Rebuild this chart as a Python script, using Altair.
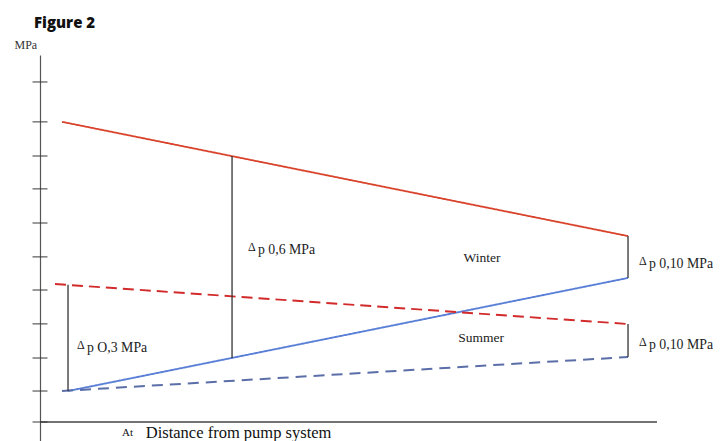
import altair as alt
import pandas as pd

# ---- data (y in MPa above the distance axis, x as share of the distance) ----
tick_values = [0.0, 0.0925, 0.191, 0.293, 0.394, 0.493, 0.594, 0.696, 0.794, 0.896, 1.015]

series_names = ["Winter supply", "Winter return", "Summer supply", "Summer return"]
series_x_start = [0.0, 0.0106, -0.0124, 0.0]
series_x_end = [1.0, 1.0, 1.0, 1.0]
series_y_start = [0.896, 0.0925, 0.412, 0.0925]
series_y_end = [0.555, 0.43, 0.2925, 0.194]

delta_x = [0.0106, 0.3004, 1.0, 1.0]
delta_top = [0.41, 0.794, 0.555, 0.2925]
delta_bottom = [0.0925, 0.191, 0.43, 0.194]

delta_label_text = ["p O,3 MPa", "p 0,6 MPa", "p 0,10 MPa", "p 0,10 MPa"]
delta_label_x = [0.0265, 0.3286, 1.0194, 1.0194]
delta_label_y = [0.208, 0.5024, 0.4588, 0.218]

season_text = ["Winter", "Summer"]
season_x = [0.742, 0.7403]
season_y = [0.4785, 0.2397]

axis_label_text = ["At", "Distance from pump system"]
axis_label_x = [0.106, 0.148]
axis_label_y = [-0.042, -0.0463]

fig_title = "Figure 2"
fig_title_x = -0.0495
fig_title_y = 1.176

XDOM = [-0.0389, 1.0512]
YDOM = [-0.0567, 1.0955]

# ---- tables ----
rows = []
for n, xs_, xe, ys_, ye in zip(series_names, series_x_start, series_x_end, series_y_start, series_y_end):
    rows.append({"series": n, "x": xs_, "y": ys_, "order": 0})
    rows.append({"series": n, "x": xe, "y": ye, "order": 1})
lines_df = pd.DataFrame(rows)
deltas_df = pd.DataFrame({"x": delta_x, "top": delta_top, "bottom": delta_bottom})
dlab_df = pd.DataFrame({"text": delta_label_text, "x": delta_label_x, "y": delta_label_y})
season_df = pd.DataFrame({"text": season_text, "x": season_x, "y": season_y})
ticks_df = pd.DataFrame({"y": tick_values, "x": [XDOM[0]] * len(tick_values)})
base_df = pd.DataFrame({"y": [0.0], "x": [XDOM[0]], "x2": [XDOM[1]]})
title_df = pd.DataFrame({"text": [fig_title], "x": [fig_title_x], "y": [fig_title_y]})

xs = alt.Scale(domain=XDOM, nice=False, zero=False)
ys = alt.Scale(domain=YDOM, nice=False, zero=False)

colors = ["#d9432b", "#5a7fd6", "#d22b2b", "#5b6ea8"]
dashes = [[1, 0], [1, 0], [11, 6], [11, 7]]
widths = [1.8, 2.0, 2.6, 2.0]
SERIF = "Liberation Serif"

X = alt.X("x:Q", scale=xs, axis=None)
Y = alt.Y("y:Q", scale=ys, axis=alt.Axis(
    title="MPa", labels=False, ticks=False, grid=False, domain=True,
    domainColor="#555", domainWidth=1.2, titleAngle=0, titleX=-26, titleY=-7,
    titleAlign="left", titleBaseline="alphabetic", titleFont=SERIF,
    titleFontSize=12, titleFontWeight="normal", titleColor="#333"))

lines = alt.Chart(lines_df).mark_line().encode(
    x=X, y=Y,
    color=alt.Color("series:N", scale=alt.Scale(domain=series_names, range=colors), legend=None),
    strokeDash=alt.StrokeDash("series:N", scale=alt.Scale(domain=series_names, range=dashes), legend=None),
    strokeWidth=alt.StrokeWidth("series:N", scale=alt.Scale(domain=series_names, range=widths), legend=None),
    order="order:Q",
)

x_axis = alt.Chart(base_df).mark_rule(color="#444", strokeWidth=1.4).encode(
    x=X, x2="x2:Q", y=Y)

y_ticks = alt.Chart(ticks_df).mark_tick(orient="horizontal", size=15, thickness=1.4, color="#333").encode(
    x=X, y=Y)

delta_rules = alt.Chart(deltas_df).mark_rule(color="#333", strokeWidth=1.3).encode(
    x=X,
    y=alt.Y("top:Q", scale=ys),
    y2="bottom:Q",
)

delta_sym = alt.Chart(dlab_df).mark_text(
    text="Δ", align="left", baseline="alphabetic", font=SERIF, fontSize=12, dy=-3, color="#222"
).encode(x=X, y=Y)

delta_txt = alt.Chart(dlab_df).mark_text(
    align="left", baseline="alphabetic", font=SERIF, fontSize=13.8, dx=10, color="#222"
).encode(x=X, y=Y, text="text:N")

season_lbl = alt.Chart(season_df).mark_text(
    align="center", baseline="alphabetic", font=SERIF, fontSize=13.5, color="#222"
).encode(x=X, y=Y, text="text:N")

axis_df = pd.DataFrame({"text": axis_label_text, "x": axis_label_x, "y": axis_label_y})
at_lbl = alt.Chart(axis_df.iloc[[0]]).mark_text(
    align="left", baseline="alphabetic", font=SERIF, fontSize=11, color="#111"
).encode(x=X, y=Y, text="text:N")
dist_lbl = alt.Chart(axis_df.iloc[[1]]).mark_text(
    align="left", baseline="alphabetic", font=SERIF, fontSize=16.5, color="#111"
).encode(x=X, y=Y, text="text:N")

title_lbl = alt.Chart(title_df).mark_text(
    align="left", baseline="alphabetic", font="Open Sans", fontSize=15, fontWeight=800, color="#111"
).encode(x=X, y=Y, text="text:N")

chart = alt.layer(
    lines, x_axis, y_ticks, delta_rules, delta_sym, delta_txt, season_lbl, at_lbl, dist_lbl, title_lbl
).properties(
    width=617, height=386,
    padding={"left": 32, "top": 47, "right": 56, "bottom": 0},
    autosize=alt.AutoSizeParams(type="none"),
    background="white",
).configure_view(stroke=None)

chart.save("out.html", embed_options={"renderer": "svg", "actions": False})
